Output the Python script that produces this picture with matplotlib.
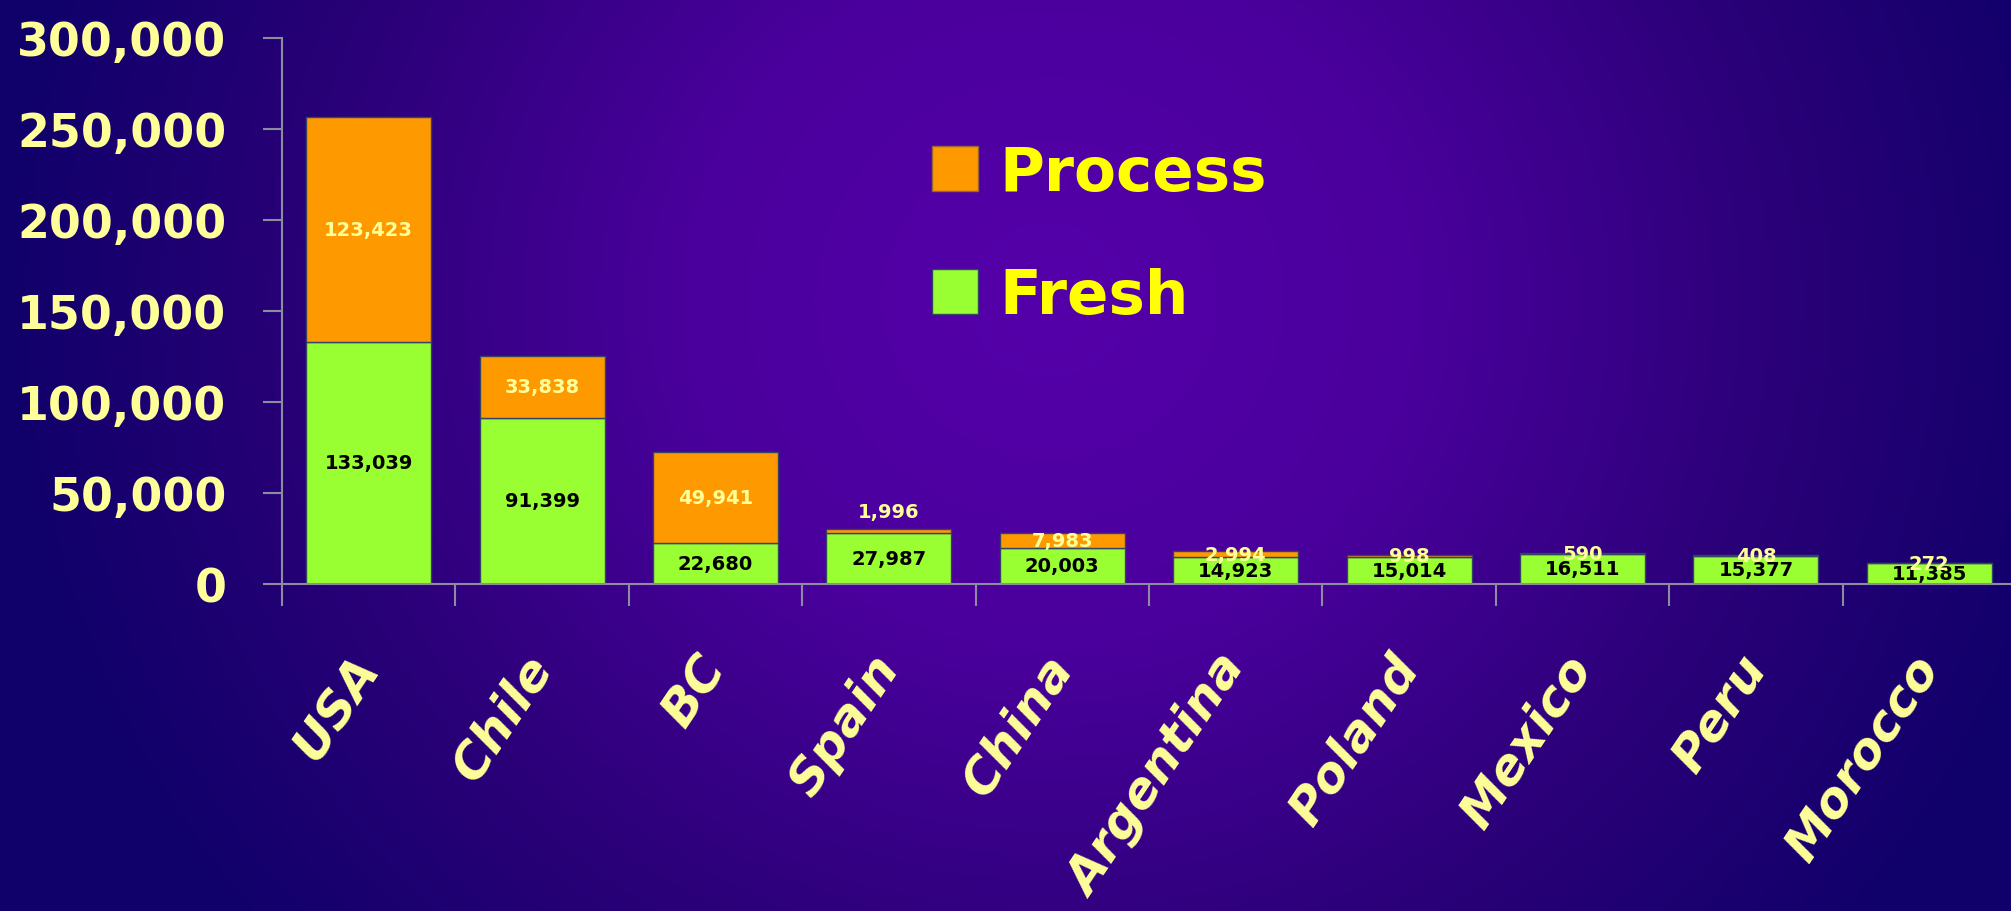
import matplotlib
matplotlib.use('Agg')
import matplotlib.pyplot as plt
import matplotlib.transforms as mtransforms
import numpy as np
from matplotlib.colors import LinearSegmentedColormap
from matplotlib.patches import Patch

countries = ['USA', 'Chile', 'BC', 'Spain', 'China', 'Argentina',
             'Poland', 'Mexico', 'Peru', 'Morocco']
fresh = [133039, 91399, 22680, 27987, 20003, 14923, 15014, 16511, 15377, 11385]
process = [123423, 33838, 49941, 1996, 7983, 2994, 998, 590, 408, 272]

green = '#99FF33'
orange = '#FF9900'
pale = '#FFFF99'
grey = '#8C8C9C'

plt.rcParams['font.family'] = ['DejaVu Sans']
plt.rcParams['font.weight'] = 'bold'

fig = plt.figure(figsize=(20.11, 9.12), dpi=100)

# purple radial background
bg = fig.add_axes([0, 0, 1, 1], zorder=-10)
gx, gy = np.meshgrid(np.linspace(0, 2011, 400), np.linspace(0, 912, 200))
r = np.sqrt(((gx - 1050) / 1050) ** 2 + ((gy - 300) / 1000) ** 2)
r = np.clip(r, 0, 1)
cmap = LinearSegmentedColormap.from_list(
    'bg', [(0, '#5500AA'), (0.35, '#4A009C'), (0.7, '#2A0078'), (1, '#10006A')])
bg.imshow(r, cmap=cmap, extent=(0, 2011, 912, 0), aspect='auto', vmin=0, vmax=1)
bg.axis('off')

ax = fig.add_axes([282 / 2011, 327 / 912, 1734 / 2011, 546.5 / 912])
ax.set_facecolor('none')

x = np.arange(len(countries))
w = 0.72
ax.bar(x, fresh, w, color=green, edgecolor='#334466', linewidth=1, label='Fresh')
ax.bar(x, process, w, bottom=fresh, color=orange, edgecolor='#334466',
       linewidth=1, label='Process')

# value labels, centred in each segment (Spain's thin one nudged up)
for i in range(len(countries)):
    ax.annotate(f'{fresh[i]:,}', (x[i], fresh[i] / 2), ha='center', va='center',
                fontsize=14, color='black')
    dy = 14 if countries[i] == 'Spain' else 0
    ax.annotate(f'{process[i]:,}', (x[i], fresh[i] + process[i] / 2),
                xytext=(0, dy), textcoords='offset points',
                ha='center', va='center', fontsize=14, color=pale)

ax.set_xlim(-0.5, len(countries) - 0.5)
ax.set_ylim(0, 300000)
ax.set_yticks(np.arange(0, 300001, 50000))
ax.yaxis.set_major_formatter(matplotlib.ticker.FuncFormatter(lambda v, p: f'{int(v):,}'))
ax.tick_params(axis='y', direction='out', length=14, width=1.5, color=grey,
               labelsize=33, labelcolor=pale, pad=26)

ax.set_xticks(x)
ax.set_xticklabels(countries, rotation=56, ha='right', va='center',
                   rotation_mode='anchor', fontsize=36, style='italic', color=pale)
shift = mtransforms.ScaledTranslation(0.1, 0, fig.dpi_scale_trans)
for lab in ax.get_xticklabels():
    lab.set_transform(lab.get_transform() + shift)
# tick marks sit between the categories
ax.set_xticks(np.arange(-0.5, len(countries)), minor=True)
ax.tick_params(axis='x', which='major', length=0, pad=54)
ax.tick_params(axis='x', which='minor', direction='out', length=16, width=1.5, color=grey)

for s in ['top', 'right']:
    ax.spines[s].set_visible(False)
for s in ['left', 'bottom']:
    ax.spines[s].set_color(grey)
    ax.spines[s].set_linewidth(1.5)

handles = [Patch(facecolor=orange, edgecolor='#996633', label='Process'),
           Patch(facecolor=green, edgecolor='#334466', label='Fresh')]
ax.legend(handles=handles, loc='upper left', bbox_to_anchor=(932 / 2011, 1 - 145 / 912),
          bbox_transform=fig.transFigure, frameon=False, fontsize=44,
          labelcolor='#FFFF00', handlelength=0.75, handleheight=0.75,
          handletextpad=0.35, labelspacing=1.05, borderpad=0, borderaxespad=0)

fig.savefig('out.png', dpi=100)
